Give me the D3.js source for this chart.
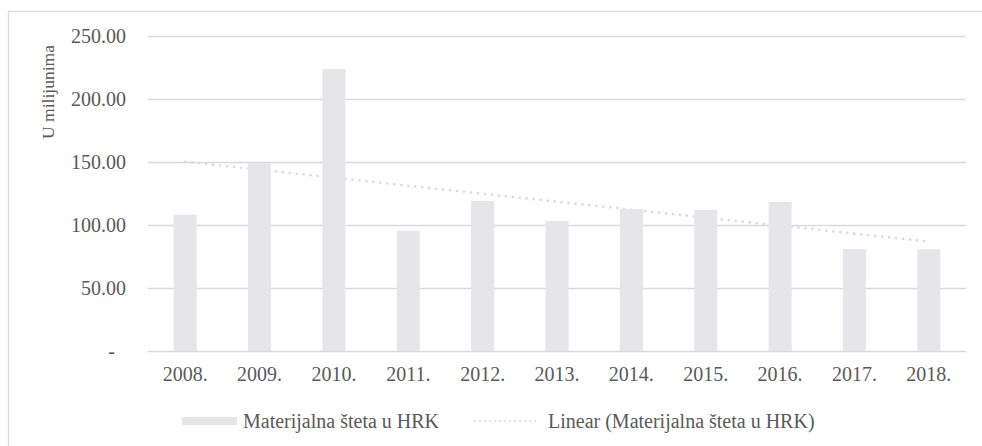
<!DOCTYPE html>
<meta charset="utf-8">
<script src="https://d3js.org/d3.v7.min.js"></script>
<div id="chart"></div>
<script>

    // data (millions HRK)
    var years = ["2008.", "2009.", "2010.", "2011.", "2012.", "2013.", "2014.", "2015.", "2016.", "2017.", "2018."];
    var steta = [108.2, 149.0, 223.8, 95.3, 119.0, 103.2, 112.8, 112.0, 118.4, 81.0, 80.8];
    var yTicks = [0, 50, 100, 150, 200, 250];
    var seriesName = "Materijalna šteta u HRK";
    var trendName = "Linear (Materijalna šteta u HRK)";
    var yTitle = "U milijunima";

    var W = 982, H = 446;
    var margin = {top: 36, right: 16, bottom: 95, left: 148},
        width = W - margin.left - margin.right,
        height = H - margin.top - margin.bottom;

    var FONT = "'Liberation Serif'";
    var INK = "#595959";

    d3.select("body").style("margin", "0px");

    var svg = d3.select("#chart")
      .append("svg")
        .attr("width", W)
        .attr("height", H);

    // chart area border
    svg.append("rect")
      .attr("x", 8.5).attr("y", 11.5)
      .attr("width", W + 10).attr("height", H + 10)
      .attr("fill", "none")
      .attr("stroke", "#d9d9d9")
      .attr("stroke-width", 1.3);

    var g = svg.append("g")
      .attr("transform", "translate(" + margin.left + "," + margin.top + ")");

    var x = d3.scaleBand()
      .domain(years)
      .range([0, width])
      .paddingInner(0.69)
      .paddingOuter(0.345);

    var y = d3.scaleLinear()
      .domain([0, 250])
      .range([height, 0]);

    // gridlines
    g.append("g")
      .selectAll("line")
      .data(yTicks)
      .enter()
      .append("line")
        .attr("x1", 0)
        .attr("x2", width)
        .attr("y1", function(d){ return Math.round(y(d)) + 0.5; })
        .attr("y2", function(d){ return Math.round(y(d)) + 0.5; })
        .attr("stroke", "#d9d9d9")
        .attr("stroke-width", 1.3);

    // y tick labels
    g.append("g")
      .selectAll("text")
      .data(yTicks)
      .enter()
      .append("text")
        .attr("x", function(d){ return d === 0 ? -33 : -22; })
        .attr("y", function(d){ return y(d); })
        .attr("dy", "0.33em")
        .attr("text-anchor", "end")
        .style("font-family", FONT)
        .style("font-size", "20px")
        .style("fill", INK)
        .text(function(d){ return d === 0 ? "-" : d3.format(".2f")(d); });

    // linear trendline (least squares over the bars)
    var n = steta.length;
    var mx = d3.mean(d3.range(n)), my = d3.mean(steta);
    var sxy = d3.sum(steta, function(v, i){ return (i - mx) * (v - my); });
    var sxx = d3.sum(d3.range(n), function(i){ return (i - mx) * (i - mx); });
    var slope = sxy / sxx, icpt = my - slope * mx;

    g.append("line")
      .attr("x1", x(years[0]) + x.bandwidth() / 2)
      .attr("x2", x(years[n - 1]) + x.bandwidth() / 2)
      .attr("y1", y(icpt))
      .attr("y2", y(icpt + slope * (n - 1)))
      .attr("stroke", "#d9d9d9")
      .attr("stroke-width", 2.6)
      .attr("stroke-linecap", "round")
      .style("stroke-dasharray", "0.01, 7");

    // bars
    g.append("g")
      .selectAll("rect")
      .data(steta)
      .enter()
      .append("rect")
        .attr("x", function(d, i){ return x(years[i]); })
        .attr("y", function(d){ return y(d); })
        .attr("width", x.bandwidth())
        .attr("height", function(d){ return y(0) - y(d); })
        .attr("fill", "#e6e6e8");

    // x labels
    g.append("g")
      .selectAll("text")
      .data(years)
      .enter()
      .append("text")
        .attr("x", function(d){ return x(d) + x.bandwidth() / 2; })
        .attr("y", height + 30)
        .attr("text-anchor", "middle")
        .style("font-family", FONT)
        .style("font-size", "20px")
        .style("fill", INK)
        .text(function(d){ return d; });

    // y axis title
    svg.append("text")
      .attr("transform", "translate(54," + 92 + ") rotate(-90)")
      .attr("text-anchor", "middle")
      .style("font-family", FONT)
      .style("font-size", "17.5px")
      .style("fill", INK)
      .text(yTitle);

    // legend
    var leg = svg.append("g").attr("transform", "translate(0,421)");
    leg.append("rect")
      .attr("x", 182).attr("y", -4)
      .attr("width", 55).attr("height", 8)
      .attr("fill", "#e6e6e8");
    leg.append("text")
      .attr("x", 243).attr("y", 0).attr("dy", "0.33em")
      .style("font-family", FONT)
      .style("font-size", "20px")
      .style("fill", INK)
      .text(seriesName);
    leg.append("line")
      .attr("x1", 475).attr("x2", 539)
      .attr("y1", 0).attr("y2", 0)
      .attr("stroke", "#d9d9d9")
      .attr("stroke-width", 2)
      .attr("stroke-linecap", "round")
      .style("stroke-dasharray", "0.01, 5");
    leg.append("text")
      .attr("x", 548).attr("y", 0).attr("dy", "0.33em")
      .style("font-family", FONT)
      .style("font-size", "20px")
      .style("fill", INK)
      .text(trendName);

</script>
